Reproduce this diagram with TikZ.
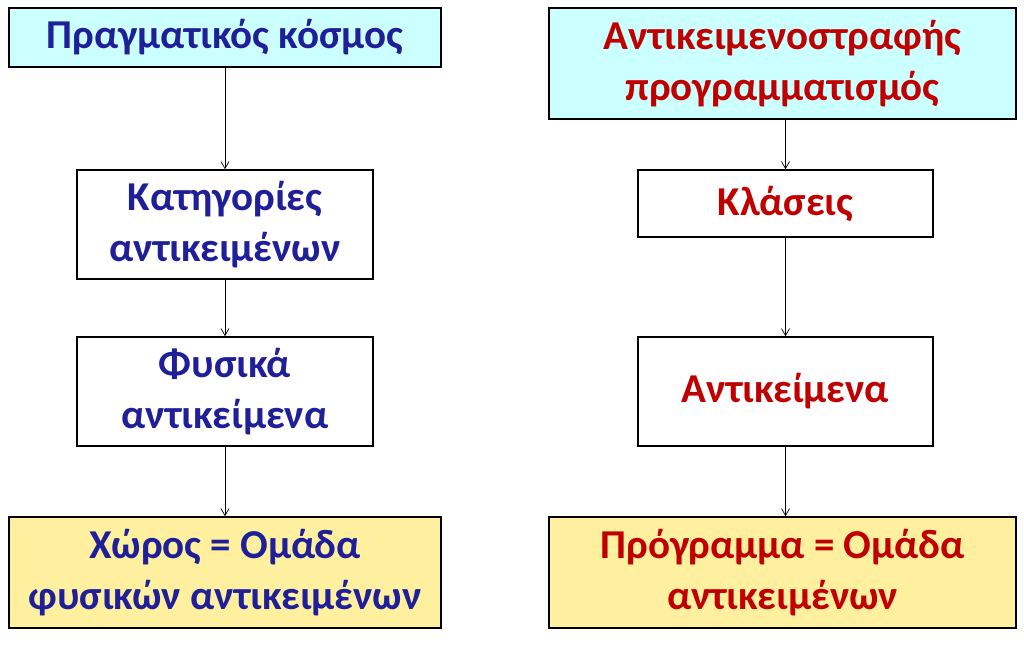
\documentclass[tikz,border=0pt]{standalone}
\usepackage{fontspec}
\setmainfont{Carlito}
\usetikzlibrary{arrows.meta}
\definecolor{tblue}{HTML}{1F1F99}
\definecolor{tred}{HTML}{C00000}
\definecolor{cyanf}{HTML}{CCFFFF}
\definecolor{yelf}{HTML}{FFF0A0}
\begin{document}
\begin{tikzpicture}[x=1pt,y=-1pt,
  box/.style={draw=black,line width=1.5pt,align=center,font=\fontsize{41}{51}\selectfont\bfseries,inner sep=0pt},
  arr/.style={-{Straight Barb[length=7pt,width=8pt]},line width=0.7pt}]
\useasboundingbox (0,0) rectangle (1024,650);
\fill[white] (0,0) rectangle (1024,650);
% left
\node[box,fill=cyanf,text=tblue,minimum width=432pt,minimum height=59pt] (l1) at (225,37.5) {Πραγματικός κόσμος};
\node[box,fill=white,text=tblue,minimum width=296pt,minimum height=109pt] (l2) at (225,224.5) {Κατηγορίες\\αντικειμένων};
\node[box,fill=white,text=tblue,minimum width=296pt,minimum height=109pt] (l3) at (225,391.5) {Φυσικά\\αντικείμενα};
\node[box,fill=yelf,text=tblue,minimum width=432pt,minimum height=111pt] (l4) at (225,572.5) {Χώρος = Ομάδα\\φυσικών αντικειμένων};
% right
\node[box,fill=cyanf,text=tred,minimum width=467pt,minimum height=111pt] (r1) at (782.5,63.5) {Αντικειμενοστραφής\\προγραμματισμός};
\node[box,fill=white,text=tred,minimum width=295pt,minimum height=67pt] (r2) at (785.5,203.5) {Κλάσεις};
\node[box,fill=white,text=tred,minimum width=295pt,minimum height=109pt] (r3) at (785.5,391.5) {Αντικείμενα};
\node[box,fill=yelf,text=tred,minimum width=467pt,minimum height=111pt] (r4) at (782.5,572.5) {Πρόγραμμα = Ομάδα\\αντικειμένων};
\draw[arr] (l1) -- (l2);
\draw[arr] (l2) -- (l3);
\draw[arr] (l3) -- (l4);
\draw[arr] (r1.south -| r2) -- (r2);
\draw[arr] (r2) -- (r3);
\draw[arr] (r3) -- (r4.north -| r3);
\end{tikzpicture}
\end{document}
